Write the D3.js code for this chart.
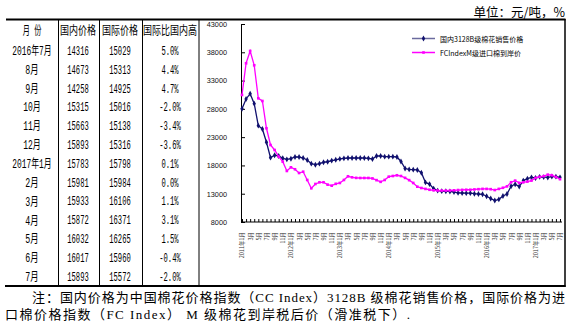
<!DOCTYPE html>
<html><head><meta charset="utf-8">
<script src="https://cdn.jsdelivr.net/npm/d3@7"></script>
<style>body{margin:0;background:#fff}</style></head>
<body>
<svg id="c" width="571" height="329"></svg>
<script>
// Monthly series, 2011-01 .. 2017-07 (79 months)
const domestic = [
  28000,29750,30680,28920,25030,24440,22090,19370,19790,19670,19260,19080,
  19190,19490,19490,19310,18960,18310,18130,18310,18560,18650,18850,19000,
  19150,19250,19310,19310,19310,19310,19310,19250,19140,19670,19670,19550,
  19550,19550,19490,18700,17450,17300,17250,17200,16700,15000,14700,13900,
  13550,13450,13430,13400,13300,13150,13130,13100,13100,13000,12950,12900,
  12550,12150,11800,12000,12600,12950,14316,14673,14258,15315,15663,15893,
  15783,15981,15933,15872,16032,16017,15893
];
const international = [
  30450,36060,38230,35700,29870,29390,24570,21610,20730,19550,18660,17020,
  17670,17320,16660,16890,15430,13960,14720,15020,15020,14600,14420,14750,
  14900,15430,16080,15900,15800,15780,15780,15780,15700,15400,15100,15430,
  16010,16130,16260,16130,15800,15400,14900,14240,14010,13850,13700,13600,
  13570,13560,13560,13570,13600,13650,13680,13700,13700,13750,13800,13850,
  13850,13800,13650,13850,14050,14300,15029,15313,14925,15016,15138,15316,
  15798,15984,16106,16371,16265,15960,15572
];
const xTickLabels = [
  "2011年1月","3月","5月","7月","9月","11月",
  "2012年1月","3月","5月","7月","9月","11月",
  "2013年1月","3月","5月","7月","9月","11月",
  "2014年1月","3月","5月","7月","9月","11月",
  "2015年1月","3月","5月","7月","9月","11月",
  "2016年1月","3月","5月","7月","9月","11月",
  "2017年1月","3月","5月","7月"
];
const yTicks = [8000,13000,18000,23000,28000,33000,38000,43000];
const seriesNames = ["国内3128B级棉花销售价格","FCIndexM级进口棉到岸价"];
const seriesColors = ["#10106e","#ff00ff"];

const tableHeader = ["月  份","国内价格","国际价格","国际比国内高"];
const tableMonths = ["2016年7月","8月","9月","10月","11月","12月","2017年1月","2月","3月","4月","5月","6月","7月"];
const tableDomestic = [14316,14673,14258,15315,15663,15893,15783,15981,15933,15872,16032,16017,15893];
const tableIntl = [15029,15313,14925,15016,15138,15316,15798,15984,16106,16371,16265,15960,15572];
const tableDiff = ["5.0%","4.4%","4.7%","-2.0%","-3.4%","-3.6%","0.1%","0.0%","1.1%","3.1%","1.5%","-0.4%","-2.0%"];

const unitText = "单位：元/吨，%";
const note1 = "注：国内价格为中国棉花价格指数（CC Index）3128B 级棉花销售价格，国际价格为进";
const note2 = "口棉价格指数（FC Index） M 级棉花到岸税后价（滑准税下）.";

const svg = d3.select("#c");

// ---------- frame lines ----------
svg.append("line").attr("x1",6).attr("x2",565.5).attr("y1",19.5).attr("y2",19.5)
  .attr("stroke","#000").attr("stroke-width",2);
svg.append("line").attr("x1",5).attr("x2",565.5).attr("y1",286).attr("y2",286)
  .attr("stroke","#000").attr("stroke-width",2);
svg.append("line").attr("x1",565).attr("x2",565).attr("y1",19).attr("y2",287)
  .attr("stroke","#000").attr("stroke-width",1.5);

// ---------- table ----------
const colEdges = [58.5,99.5,142.5,199];
colEdges.forEach(xx=>{
  svg.append("line").attr("x1",xx).attr("x2",xx).attr("y1",20).attr("y2",286)
    .attr("stroke","#000").attr("stroke-width",1);
});
const colCenters = [32,78,120,170];
const FS = 12;
function targetW(s){let w=0;for(const c of s){w+= c.charCodeAt(0)>255?9:(c===" "?2.5:4.3);}return w;}
function naturalW(s){let w=0;for(const c of s){w+= c.charCodeAt(0)>255?FS:FS*0.6;}return w;}
function cell(x,y,s){
  const sx = targetW(s)/naturalW(s);
  svg.append("text").attr("transform",`translate(${x},${y}) scale(${sx},1)`)
    .attr("text-anchor","middle")
    .attr("dominant-baseline","central")
    .attr("font-family","'Liberation Mono','Noto Sans CJK SC'")
    .attr("font-size",FS).attr("fill","#000")
    .text(s);
}
tableHeader.forEach((h,i)=>cell(colCenters[i],31.5,h));
const rowY = d3.scaleLinear().domain([0,12]).range([52,277.5]);
tableMonths.forEach((m,i)=>{
  cell(colCenters[0],rowY(i),m);
  cell(colCenters[1],rowY(i),String(tableDomestic[i]));
  cell(colCenters[2],rowY(i),String(tableIntl[i]));
  cell(colCenters[3],rowY(i),tableDiff[i]);
});

// ---------- unit ----------
svg.append("text").attr("x",565).attr("y",11).attr("text-anchor","end")
  .attr("dominant-baseline","central")
  .attr("font-family","'Noto Sans CJK SC'").attr("font-size",12.5)
  .text(unitText);

// ---------- chart ----------
const x = d3.scaleLinear().domain([0,78]).range([242,560]);
const y = d3.scaleLinear().domain([8000,43000]).range([222,24]);

const yAxis = svg.append("g").attr("transform","translate(241,0)")
  .call(d3.axisLeft(y).tickValues(yTicks).tickSize(-4).tickSizeOuter(0).tickPadding(14)
    .tickFormat(d3.format("d")));
yAxis.selectAll("text").attr("font-family","'Liberation Sans',Arial,sans-serif")
  .attr("font-size",7.3).attr("fill","#111");
yAxis.selectAll("line,path").attr("stroke","#000");

const xAxis = svg.append("g").attr("transform","translate(0,222)")
  .call(d3.axisBottom(x).tickValues(d3.range(domestic.length)).tickSize(-3).tickSizeOuter(0)
    .tickFormat(d=> d%2===0 ? xTickLabels[d/2] : ""));
xAxis.select(".domain").attr("d","M241,0H562");
xAxis.selectAll("line,path").attr("stroke","#000");
xAxis.selectAll("text")
  .attr("transform","rotate(-90)")
  .attr("text-anchor","end").attr("x",-10).attr("y",0).attr("dy","0.35em")
  .attr("font-family","'Noto Sans CJK SC',sans-serif").attr("font-size",5.5).attr("fill","#333");

const lineGen = d3.line().x((d,i)=>x(i)).y(d=>y(d));
const series = [domestic, international];
const symbols = [d3.symbolDiamond, d3.symbolSquare];
const symSizes = [10,7];
series.forEach((s,k)=>{
  svg.append("path").datum(s).attr("d",lineGen).attr("fill","none")
    .attr("stroke",seriesColors[k]).attr("stroke-width",1.3);
  svg.append("g").selectAll("path").data(s).join("path")
    .attr("transform",(d,i)=>`translate(${x(i)},${y(d)})`)
    .attr("d",d3.symbol(symbols[k],symSizes[k])).attr("fill",seriesColors[k]);
});

// legend
seriesNames.forEach((n,k)=>{
  const ly = 38.5 + k*14;
  svg.append("line").attr("x1",412).attr("x2",435).attr("y1",ly).attr("y2",ly)
    .attr("stroke",k===0?"#6b6b9e":seriesColors[k]).attr("stroke-width",1.5);
  svg.append("path").attr("transform",`translate(423.5,${ly})`)
    .attr("d",d3.symbol(symbols[k],symSizes[k])).attr("fill",seriesColors[k]);
  svg.append("text").attr("x",440).attr("y",ly).attr("dominant-baseline","central")
    .attr("font-family","'Noto Sans CJK SC',sans-serif").attr("font-size",7)
    .text(n);
});

// ---------- footnote ----------
svg.append("text").attr("x",32).attr("y",297).attr("dominant-baseline","central")
  .attr("font-family","'Liberation Serif','Noto Sans CJK SC',serif").attr("font-size",13)
  .attr("textLength",533).attr("lengthAdjust","spacing").text(note1);
svg.append("text").attr("x",5).attr("y",314).attr("dominant-baseline","central")
  .attr("font-family","'Liberation Serif','Noto Sans CJK SC',serif").attr("font-size",13)
  .attr("textLength",405).attr("lengthAdjust","spacing").text(note2);
</script>
</body></html>
